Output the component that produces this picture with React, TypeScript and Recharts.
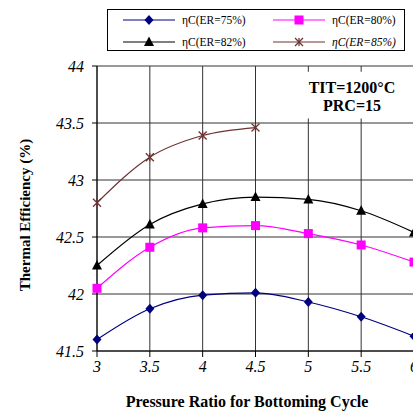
import { LineChart, Line, XAxis, YAxis, CartesianGrid, ReferenceArea } from 'recharts';

const pressureRatio = [3, 3.5, 4, 4.5, 5, 5.5, 6];
const er75 = [41.6, 41.87, 41.99, 42.01, 41.93, 41.8, 41.63];
const er80 = [42.05, 42.41, 42.58, 42.6, 42.53, 42.43, 42.28];
const er82 = [42.25, 42.61, 42.79, 42.85, 42.83, 42.73, 42.54];
const er85 = [42.8, 43.2, 43.39, 43.46];

const xTicks = [3, 3.5, 4, 4.5, 5, 5.5, 6];
const yTicks = [41.5, 42, 42.5, 43, 43.5, 44];

const FONT = '"Liberation Serif", "Times New Roman", serif';

const toRows = (values: number[]) => values.map((v, i) => ({ pr: pressureRatio[i], eff: v }));

// marker shapes, roughly like the Excel ones
const diamond = (cx: number, cy: number, color: string) => (
  <path d={`M${cx},${cy - 5} L${cx + 4.5},${cy} L${cx},${cy + 5} L${cx - 4.5},${cy} Z`} fill={color} />
);
const square = (cx: number, cy: number, color: string) => (
  <rect x={cx - 4.5} y={cy - 4.5} width={9} height={9} fill={color} />
);
const triangle = (cx: number, cy: number, color: string) => (
  <path d={`M${cx},${cy - 5.5} L${cx + 5},${cy + 4} L${cx - 5},${cy + 4} Z`} fill={color} />
);
const star = (cx: number, cy: number, color: string) => (
  <g stroke={color} strokeWidth={1.3}>
    <line x1={cx - 4} y1={cy - 4} x2={cx + 4} y2={cy + 4} />
    <line x1={cx - 4} y1={cy + 4} x2={cx + 4} y2={cy - 4} />
    <line x1={cx} y1={cy - 4} x2={cx} y2={cy + 4} />
  </g>
);

const series = [
  { key: 'er75', label: 'ηC(ER=75%)', color: '#000080', data: toRows(er75), marker: diamond, italic: false },
  { key: 'er80', label: 'ηC(ER=80%)', color: '#ff00ff', data: toRows(er80), marker: square, italic: false },
  { key: 'er82', label: 'ηC(ER=82%)', color: '#000000', data: toRows(er82), marker: triangle, italic: false },
  { key: 'er85', label: 'ηC(ER=85%)', color: '#6e3232', data: toRows(er85), marker: star, italic: true },
];

function LegendBox() {
  return (
    <div
      style={{
        position: 'absolute',
        left: 107,
        top: 9,
        border: '1px solid #000',
        width: 296,
        height: 40,
        background: '#fff',
        fontFamily: FONT,
        fontSize: 11.5,
      }}
    >
      {series.map((s, i) => {
        const col = i % 2;
        const row = Math.floor(i / 2);
        return (
          <div
            key={s.key}
            style={{
              position: 'absolute',
              left: col === 0 ? 15 : 165,
              top: row === 0 ? 3 : 25,
              display: 'flex',
              alignItems: 'center',
              height: 14,
            }}
          >
            <svg width={53} height={14}>
              <line x1={0} y1={7} x2={52} y2={7} stroke={s.color} strokeWidth={1} />
              {s.marker(26, 7, s.color)}
            </svg>
            <span style={{ marginLeft: 6, fontStyle: s.italic ? 'italic' : 'normal' }}>{s.label}</span>
          </div>
        );
      })}
    </div>
  );
}

export default function App() {
  const tickStyle = { fontFamily: FONT, fontSize: 16, fontStyle: 'italic', fill: '#000' };
  return (
    <div style={{ position: 'absolute', left: 0, top: 0, width: 413, height: 412, overflow: 'hidden', background: '#fff' }}>
      <LineChart width={440} height={412} margin={{ top: 66, right: 26, bottom: 31, left: 0 }}>
        <CartesianGrid stroke="#333" strokeWidth={1} horizontalValues={yTicks} verticalValues={xTicks} />
        <XAxis
          type="number"
          dataKey="pr"
          domain={[3, 6]}
          ticks={xTicks}
          height={30}
          tickSize={6}
          tickMargin={4}
          tick={tickStyle}
          stroke="#000"
          allowDuplicatedCategory={false}
        />
        <YAxis
          type="number"
          dataKey="eff"
          domain={[41.5, 44]}
          ticks={yTicks}
          width={97}
          tickSize={5}
          tickMargin={8}
          tick={tickStyle}
          stroke="#000"
        />
        <ReferenceArea x1={4.87} x2={6} y1={43.54} y2={43.95} fill="#fff" fillOpacity={1} stroke="none" ifOverflow="visible" />
        {series.map((s) => (
          <Line
            key={s.key}
            data={s.data}
            dataKey="eff"
            type="monotone"
            stroke={s.color}
            strokeWidth={1.2}
            dot={(p: any) => <g key={`${s.key}-${p.index}`}>{s.marker(p.cx, p.cy, s.color)}</g>}
            isAnimationActive={false}
          />
        ))}
      </LineChart>
      <LegendBox />
      <div
        style={{
          position: 'absolute',
          left: 296,
          top: 79,
          width: 112,
          textAlign: 'center',
          fontFamily: FONT,
          fontWeight: 'bold',
          fontSize: 16,
          lineHeight: '18px',
        }}
      >
        TIT=1200°C
        <br />
        PRC=15
      </div>
      <div
        style={{
          position: 'absolute',
          left: 25,
          top: 215,
          transform: 'translate(-50%, -50%) rotate(-90deg)',
          whiteSpace: 'nowrap',
          fontFamily: FONT,
          fontWeight: 'bold',
          fontSize: 15,
        }}
      >
        Thermal Efficiency (%)
      </div>
      <div
        style={{
          position: 'absolute',
          left: 247,
          top: 402,
          transform: 'translate(-50%, -50%)',
          whiteSpace: 'nowrap',
          fontFamily: FONT,
          fontWeight: 'bold',
          fontSize: 16,
        }}
      >
        Pressure Ratio for Bottoming Cycle
      </div>
    </div>
  );
}
